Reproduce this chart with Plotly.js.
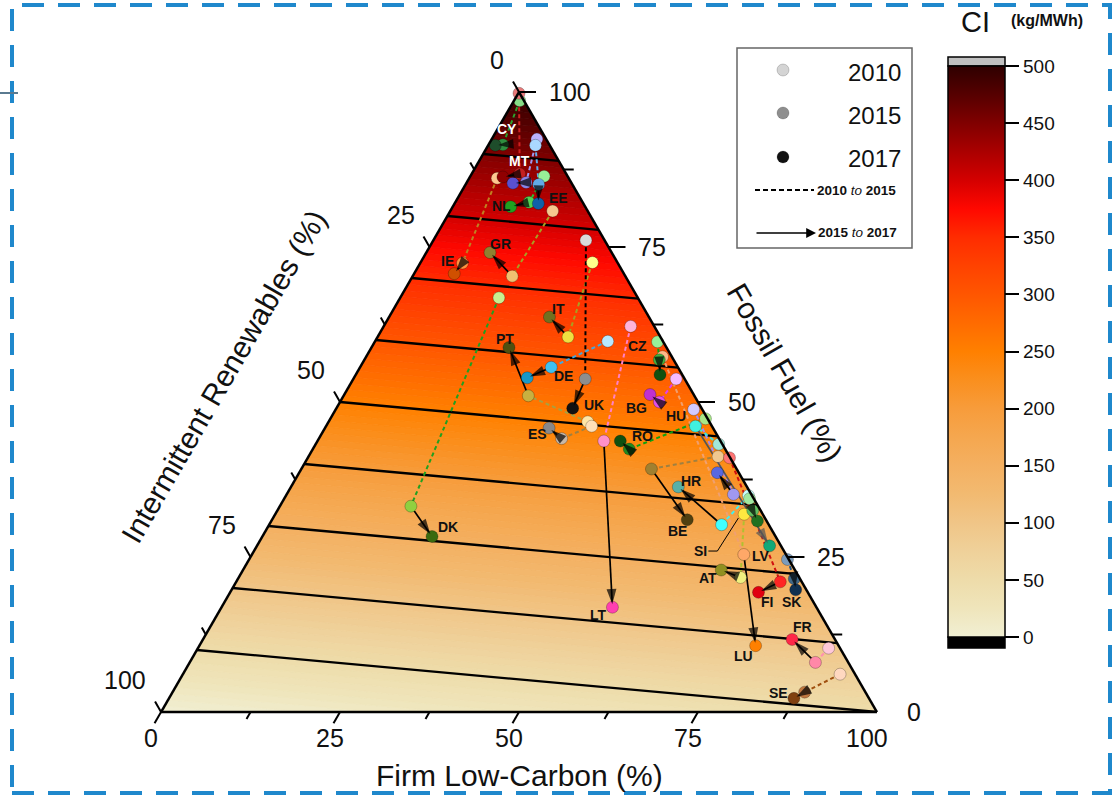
<!DOCTYPE html>
<html>
<head>
<meta charset="utf-8">
<script src="https://cdn.plot.ly/plotly-3.0.1.min.js"></script>
<style>
html,body{margin:0;padding:0;background:#ffffff;}
#chart{width:1119px;height:798px;}
</style>
</head>
<body>
<div id="chart"></div>
<script>
// ---------------- DATA (percent shares of generation) ----------------
const countries = ['CY','MT','PL','EE','NL','IE','GR','IT','UK','DK','PT','DE','ES','CZ','LT','BG','HU','RO','LV','HR','BE','SI','AT','FI','SK','LU','FR','SE'];
const showLabel = countries.map(c => c !== 'PL');

const fossil2010 = [98.6, 99.8, 92.4, 91.4, 86.4, 86.1, 80.8, 72.5, 76.1, 66.8, 46.8, 59.8, 46.1, 59.7, 62.2, 53.7, 48.8, 47.3, 43.2, 34.9, 41.2, 34.4, 31.9, 41.0, 24.6, 57.3, 10.3, 6.1];
const renew2010  = [0.6, 0.1, 1.3, 2.0, 3.3, 10.0, 4.9, 3.5, 2.6, 19.4, 17.0, 7.7, 16.8, 0.8, 3.3, 1.2, 1.2, 0.3, 0.5, 0.5, 1.6, 0.6, 2.6, 0.1, 0.2, 1.3, 1.6, 2.1];
const firm2010   = [0.8, 0.1, 6.3, 6.6, 10.3, 3.9, 14.3, 24.0, 21.3, 13.8, 36.2, 32.5, 37.1, 39.5, 34.5, 45.1, 50.0, 52.4, 56.3, 64.6, 57.2, 65.0, 65.5, 58.9, 75.2, 41.4, 88.1, 91.8];

const fossil2015 = [91.5, 86.8, 85.4, 85.1, 82.2, 72.4, 70.3, 60.5, 53.7, 33.2, 51.0, 55.6, 44.1, 56.8, 43.7, 50.0, 35.1, 42.4, 46.1, 30.2, 39.2, 32.5, 21.7, 21.0, 21.5, 25.4, 8.0, 3.2];
const renew2015  = [6.5, 6.5, 6.3, 4.7, 7.5, 21.7, 15.8, 12.9, 13.9, 48.5, 23.2, 17.7, 22.0, 2.0, 16.3, 5.4, 2.5, 13.4, 2.3, 6.6, 11.9, 1.1, 8.2, 3.0, 0.8, 5.9, 4.6, 8.5];
const firm2015   = [2.0, 6.7, 8.3, 10.2, 10.3, 5.9, 13.9, 26.6, 32.4, 18.3, 25.8, 26.7, 33.9, 41.2, 40.0, 44.6, 62.4, 44.2, 51.6, 63.2, 48.9, 66.4, 70.1, 76.0, 77.7, 68.7, 87.4, 88.3];

const fossil2017 = [91.4, 86.3, 85.3, 82.0, 81.5, 70.7, 74.1, 63.7, 49.0, 28.3, 58.8, 53.9, 45.8, 54.4, 16.9, 51.2, 38.6, 43.7, 26.8, 36.3, 31.0, 30.8, 22.9, 19.3, 19.7, 10.7, 11.7, 2.2];
const renew2017  = [7.6, 9.1, 8.2, 6.3, 10.4, 23.7, 17.0, 13.9, 18.0, 48.0, 22.0, 21.9, 22.9, 3.1, 28.5, 6.1, 3.0, 14.0, 1.6, 9.6, 11.0, 1.3, 10.3, 6.9, 1.5, 11.6, 6.0, 10.5];
const firm2017   = [1.0, 4.6, 6.5, 11.7, 8.1, 5.6, 8.9, 22.4, 33.0, 23.7, 19.2, 24.2, 31.3, 42.5, 54.6, 42.7, 58.4, 42.3, 71.6, 54.1, 58.0, 67.9, 66.8, 73.8, 78.8, 77.7, 82.3, 87.3];

// carbon intensity field (kg/MWh per % share)
const ciPerFossil = 5.0;
const ciPerFirm = 0.5;
const ciContourLevels = [50, 100, 150, 200, 250, 300, 350, 400, 450];
const ciTicks = [0, 50, 100, 150, 200, 250, 300, 350, 400, 450, 500];
const ciStopValues = [0, 25, 50, 75, 100, 125, 150, 175, 200, 225, 250, 275, 300, 325, 350, 375, 400, 425, 450, 475, 500];
const ciStopColors = ['#f1efd3','#efe5bb','#eedcaa','#efd19a','#f0c587','#f2ba71','#f4b061','#f5a74f','#f79c3b','#fa8f1e','#ff8000','#ff6b00','#ff5600','#ff4200','#ff2c00','#ff0800','#d40000','#aa0000','#800000','#560000','#2e0000'];
const axisTickValues = [0, 25, 50, 75, 100];
const minorTickValues = [12.5, 37.5, 62.5, 87.5];

// ---------------- STYLE ----------------
const col2010 = ['#86dc86','#e87a7a','#bab2ff','#aad8ff','#98f098','#ffc890','#f6c88e','#ffff8c','#dadada','#c8f090','#ffe6a6','#b8e8ff','#ffe0b8','#98f098','#ffb4da','#f6baff','#d2caff','#a8e888','#a2e8da','#c8ffff','#f0c890','#a0e8a0','#ffe840','#ff7474','#7c9cbc','#ffb888','#ffc8d8','#ffd8c0'];
const col2015 = ['#2f8f3f','#c42020','#8c84e8','#62aae8','#52d252','#ff9240','#f0c070','#f0e040','#8e8e8e','#90d040','#c8b040','#40c0f0','#c8b8a8','#40b040','#ff90c8','#e050e8','#a098f0','#208820','#40f0e0','#40ffff','#a08030','#60c060','#f0f080','#ff2424','#406888','#ffa868','#ff88a8','#c07840'];
const col2017 = ['#1e4d2b','#900000','#5a50d0','#1060a8','#20a020','#d05000','#908030','#707020','#111111','#3a6a10','#505010','#1898c8','#888888','#105010','#ff40b0','#c030d0','#5868e0','#105010','#10a878','#58b0a8','#504010','#207020','#909020','#e00010','#103050','#ff8000','#ff2848','#804010'];
const dashCol = ['#2ca02c','#d02020','#a098f0','#60b0f0','#30c030','#c08020','#a8a020','#a8a020','#000000','#20a020','#a8a040','#40a8e0','#a08040','#10a010','#ff80c8','#e040f0','#a888f0','#10a010','#40e0e0','#40f0f0','#a08040','#40b040','#b0c030','#d01010','#205080','#f0a070','#ff90b0','#a05010'];
const arrowCol = countries.map(c => c === 'LV' ? '#555555' : '#000000');
const labelColor = countries.map(c => (c === 'CY' || c === 'MT') ? '#ffffff' : '#111111');
// label offsets in pixels from the 2017 point
const labelOffset = {CY:[12,-16],MT:[17,-16],EE:[20,-6],NL:[-9,-1],IE:[-7,-13],GR:[10,-9],IT:[9,-8],UK:[21,-3],DK:[16,-10],PT:[-4,-8],DE:[36,-2],ES:[-12,6],CZ:[-23,-29],LT:[-14,8],BG:[-14,13],HU:[-41,-57],RO:[22,-5],LV:[-9,10],HR:[13,-6],BE:[-10,11],SI:[-57,30],AT:[-13,8],FI:[9,10],SK:[-4,12],LU:[-12,10],FR:[10,-12],SE:[-15,-5]};

const FONT = 'Liberation Sans, Arial, sans-serif';
const PW = 1119, PH = 798;
const SQ3 = Math.sqrt(3);
const TRI_H = 620, TRI_W = TRI_H * 2 / SQ3;
const CX = 519, TOP = 92, BASE = TOP + TRI_H;

function px(F, I, C) {
  const s = F + I + C;
  const f = F / s, i = I / s, c = C / s;
  return [CX * f + (CX - TRI_W / 2) * i + (CX + TRI_W / 2) * c, TOP * f + BASE * (i + c)];
}
const PX = x => x / PW;
const PY = y => 1 - y / PH;

// ---------------- colour helpers ----------------
function hexToRgb(h) { return [parseInt(h.slice(1,3),16), parseInt(h.slice(3,5),16), parseInt(h.slice(5,7),16)]; }
function colorAt(v) {
  if (v <= ciStopValues[0]) return ciStopColors[0];
  for (let k = 1; k < ciStopValues.length; k++) {
    if (v <= ciStopValues[k]) {
      const t = (v - ciStopValues[k-1]) / (ciStopValues[k] - ciStopValues[k-1]);
      const a = hexToRgb(ciStopColors[k-1]), b = hexToRgb(ciStopColors[k]);
      return 'rgb(' + a.map((x, j) => Math.round(x + (b[j] - x) * t)).join(',') + ')';
    }
  }
  return ciStopColors[ciStopColors.length - 1];
}
const colorscale = ciStopValues.map((v, k) => [v / 500, ciStopColors[k]]);

// ---------------- CI field geometry ----------------
const ci = p => ciPerFossil * p[0] + ciPerFirm * p[2];
const lerp = (p, q, t) => [p[0] + (q[0]-p[0])*t, p[1] + (q[1]-p[1])*t, p[2] + (q[2]-p[2])*t];
const corners = [[100,0,0],[0,100,0],[0,0,100]];
function clip(poly, level, sign) {
  const out = [];
  for (let k = 0; k < poly.length; k++) {
    const cur = poly[k], prev = poly[(k + poly.length - 1) % poly.length];
    const dc = sign * (ci(cur) - level), dp = sign * (ci(prev) - level);
    if (dc >= 0) {
      if (dp < 0) out.push(lerp(prev, cur, dp / (dp - dc)));
      out.push(cur);
    } else if (dp >= 0) {
      out.push(lerp(prev, cur, dp / (dp - dc)));
    }
  }
  return out;
}
function levelSegment(L) {
  const pts = [];
  for (let k = 0; k < 3; k++) {
    const p = corners[k], q = corners[(k+1)%3];
    const vp = ci(p) - L, vq = ci(q) - L;
    if (Math.abs(vp) < 1e-9) pts.push(p);
    else if (vp * vq < 0) pts.push(lerp(p, q, vp / (vp - vq)));
  }
  return pts;
}

const traces = [];
// background bands
const bandStep = 5;
for (let lo = 0; lo < 500; lo += bandStep) {
  let poly = clip(corners, lo, 1);
  poly = clip(poly, lo + bandStep, -1);
  if (poly.length < 3) continue;
  poly.push(poly[0]);
  const fc = colorAt(lo + bandStep / 2);
  traces.push({type:'scatterternary', mode:'lines', a: poly.map(p=>p[0]), b: poly.map(p=>p[1]), c: poly.map(p=>p[2]),
    fill:'toself', fillcolor: fc, line:{width:0.8, color: fc}, hoverinfo:'skip', showlegend:false});
}
// contour lines
ciContourLevels.forEach(L => {
  const s = levelSegment(L);
  traces.push({type:'scatterternary', mode:'lines', a: s.map(p=>p[0]), b: s.map(p=>p[1]), c: s.map(p=>p[2]),
    line:{color:'#000', width:2.3}, hoverinfo:'skip', showlegend:false});
});
// dashed 2010 -> 2015
countries.forEach((c, k) => {
  traces.push({type:'scatterternary', mode:'lines', a:[fossil2010[k], fossil2015[k]], b:[renew2010[k], renew2015[k]], c:[firm2010[k], firm2015[k]],
    line:{color: dashCol[k], width:2, dash:'4px,3px'}, hoverinfo:'skip', showlegend:false, cliponaxis:false});
});
// arrow lines 2015 -> 2017
countries.forEach((c, k) => {
  traces.push({type:'scatterternary', mode:'lines', a:[fossil2015[k], fossil2017[k]], b:[renew2015[k], renew2017[k]], c:[firm2015[k], firm2017[k]],
    line:{color: arrowCol[k], width:1.7}, hoverinfo:'skip', showlegend:false, cliponaxis:false});
});
// points
[[fossil2010, renew2010, firm2010, col2010], [fossil2015, renew2015, firm2015, col2015], [fossil2017, renew2017, firm2017, col2017]].forEach(([A,B,C,cols]) => {
  traces.push({type:'scatterternary', mode:'markers', a:A, b:B, c:C, text: countries,
    marker:{size:12, color: cols, line:{width:0.7, color:'rgba(0,0,0,0.35)'}}, hoverinfo:'text', showlegend:false, cliponaxis:false});
});
// arrowheads
countries.forEach((c, k) => {
  traces.push({type:'scatterternary', mode:'markers', a:[fossil2015[k], fossil2017[k]], b:[renew2015[k], renew2017[k]], c:[firm2015[k], firm2017[k]],
    marker:{symbol:'arrow', size:[0, 16], angleref:'previous', standoff:3, color: arrowCol[k], line:{width:0}}, hoverinfo:'skip', showlegend:false, cliponaxis:false});
});
// colorbar carrier
traces.push({type:'scatterternary', mode:'markers', a:[100], b:[0], c:[0], hoverinfo:'skip', showlegend:false,
  marker:{size:0.1, opacity:0, color:[0], cmin:0, cmax:500, colorscale: colorscale, showscale:true,
    colorbar:{x: PX(948), xanchor:'left', xpad:0, ypad:0, y: PY(66), yanchor:'top', len:571, lenmode:'pixels',
      thickness:57, thicknessmode:'pixels', outlinewidth:1.5, outlinecolor:'#000', ticks:'outside', ticklen:14, tickwidth:2,
      tickcolor:'#000', tickvals: ciTicks, tickfont:{size:19, family: FONT, color:'#111'}, title:{text:''}}}});

// ---------------- shapes & annotations ----------------
const shapes = [];
const annotations = [];
function lineShape(p, q, color, width) {
  shapes.push({type:'line', xref:'paper', yref:'paper', x0:PX(p[0]), y0:PY(p[1]), x1:PX(q[0]), y1:PY(q[1]), line:{color: color || '#000', width: width || 2}});
}
function text(x, y, t, opts) {
  annotations.push(Object.assign({xref:'paper', yref:'paper', x:PX(x), y:PY(y), text:t, showarrow:false,
    xanchor:'center', yanchor:'middle', font:{family: FONT, size: 25, color:'#111'}}, opts || {}));
}
// ticks
const dirLeft = [-0.5, -SQ3/2], dirBottom = [-0.5, SQ3/2];
axisTickValues.concat(minorTickValues).forEach(v => {
  const major = axisTickValues.includes(v);
  // fossil (right edge)
  const r = px(v, 0, 100 - v);
  if (v > 0) lineShape(r, [r[0] + (major ? 17 : 10), r[1]], '#000', 2);
  // intermittent (left edge)
  const l = px(100 - v, v, 0);
  const ll = major ? 12 : 8;
  lineShape(l, [l[0] + dirLeft[0]*ll, l[1] + dirLeft[1]*ll], '#000', 2);
  // firm low-carbon (bottom edge)
  const b = px(0, 100 - v, v);
  const bl = major ? 13 : 8;
  if (v < 100) lineShape(b, [b[0] + dirBottom[0]*bl, b[1] + dirBottom[1]*bl], '#000', 2);
  if (major) {
    text(r[0] + 28, r[1], String(v), {xanchor:'left'});
    text(l[0] - 13, l[1] - 32, String(v), {xanchor:'right'});
    text(b[0] - 10, b[1] + 26, String(v));
  }
});
// axis titles
const lm = px(45, 55, 0);
text(lm[0] - 0.866*114, lm[1] - 0.5*114, 'Intermittent Renewables (%)', {textangle:-60, font:{family:FONT, size:30, color:'#111'}});
const rm = px(47.5, 0, 52.5);
text(rm[0] + 0.866*90, rm[1] - 0.5*90, 'Fossil Fuel (%)', {textangle:60, font:{family:FONT, size:30, color:'#111'}});
const bm = px(0, 50, 50);
text(bm[0], bm[1] + 63, 'Firm Low-Carbon (%)', {font:{family:FONT, size:30, color:'#111'}});

// country labels
countries.forEach((c, k) => {
  if (!showLabel[k]) return;
  const p = px(fossil2017[k], renew2017[k], firm2017[k]);
  const o = labelOffset[c];
  text(p[0] + o[0], p[1] + o[1], '<b>' + c + '</b>', {font:{family:FONT, size:14, color: labelColor[k]}});
  if (c === 'SI') {
    const q1 = [p[0] + o[0] + 8, p[1] + o[1]], q2 = [p[0] + o[0] + 17, p[1] + o[1]], q3 = [p[0] - 19, p[1] - 3];
    lineShape(q1, q2, '#000', 1); lineShape(q2, q3, '#000', 1);
  }
});

// colorbar title and caps
text(975, 22, 'CI', {font:{family:FONT, size:29, color:'#111'}});
text(1047, 20, '<b>(kg/MWh)</b>', {font:{family:FONT, size:16, color:'#111'}});
shapes.push({type:'rect', xref:'paper', yref:'paper', x0:PX(948), x1:PX(1005), y0:PY(66), y1:PY(57), fillcolor:'#c0c0c0', line:{color:'#000', width:1.5}});
shapes.push({type:'rect', xref:'paper', yref:'paper', x0:PX(948), x1:PX(1005), y0:PY(648), y1:PY(637), fillcolor:'#000', line:{color:'#000', width:1.5}});

// legend box
shapes.push({type:'rect', xref:'paper', yref:'paper', x0:PX(737), x1:PX(912), y0:PY(248), y1:PY(48), line:{color:'#666', width:1.5}, fillcolor:'#fff'});
[[70,'#d4d4d4'],[113,'#8e8e8e'],[157,'#111111']].forEach(([y, col]) => {
  shapes.push({type:'circle', xref:'paper', yref:'paper', x0:PX(777), x1:PX(789), y0:PY(y+6), y1:PY(y-6), fillcolor:col, line:{color:'rgba(0,0,0,0.3)', width:0.6}});
});
text(903, 72, '2010', {xanchor:'right', font:{family:FONT, size:24, color:'#111'}});
text(903, 115, '2015', {xanchor:'right', font:{family:FONT, size:24, color:'#111'}});
text(903, 158, '2017', {xanchor:'right', font:{family:FONT, size:24, color:'#111'}});
shapes.push({type:'line', xref:'paper', yref:'paper', x0:PX(755), x1:PX(814), y0:PY(190), y1:PY(190), line:{color:'#000', width:1.8, dash:'5px,3px'}});
text(815, 190, '<b>2010 </b><i>to</i><b> 2015</b>', {xanchor:'left', font:{family:FONT, size:13.5, color:'#111'}});
annotations.push({xref:'paper', yref:'paper', x:PX(816), y:PY(233), ax:-61, ay:0, text:'', showarrow:true, arrowhead:2, arrowsize:1.4, arrowwidth:1.4, arrowcolor:'#000'});
text(816, 233, '<b>2015 </b><i>to</i><b> 2017</b>', {xanchor:'left', font:{family:FONT, size:13.5, color:'#111'}});

// page frame
shapes.push({type:'rect', xref:'paper', yref:'paper', x0:PX(12), x1:PX(1110), y0:PY(793), y1:PY(5), line:{color:'#1f88cc', width:4, dash:'22px,14px'}});
shapes.push({type:'line', xref:'paper', yref:'paper', x0:0, x1:PX(18), y0:PY(93), y1:PY(93), line:{color:'#5a7a90', width:2}});

const axisStyle = {showticklabels:false, ticks:'', showgrid:false, showline:true, linecolor:'#000', linewidth:2.5, title:{text:''}, min:0};
const layout = {
  width: PW, height: PH, margin:{l:0, r:0, t:0, b:0, autoexpand:false},
  paper_bgcolor:'#ffffff', showlegend:false,
  ternary:{
    sum:100, bgcolor:'rgba(0,0,0,0)',
    domain:{x:[(CX-400)/PW, (CX+400)/PW], y:[PY(BASE), PY(TOP)]},
    aaxis: axisStyle, baxis: axisStyle, caxis: axisStyle
  },
  shapes: shapes, annotations: annotations
};
Plotly.newPlot('chart', traces, layout, {displayModeBar:false, staticPlot:true});
</script>
</body>
</html>
